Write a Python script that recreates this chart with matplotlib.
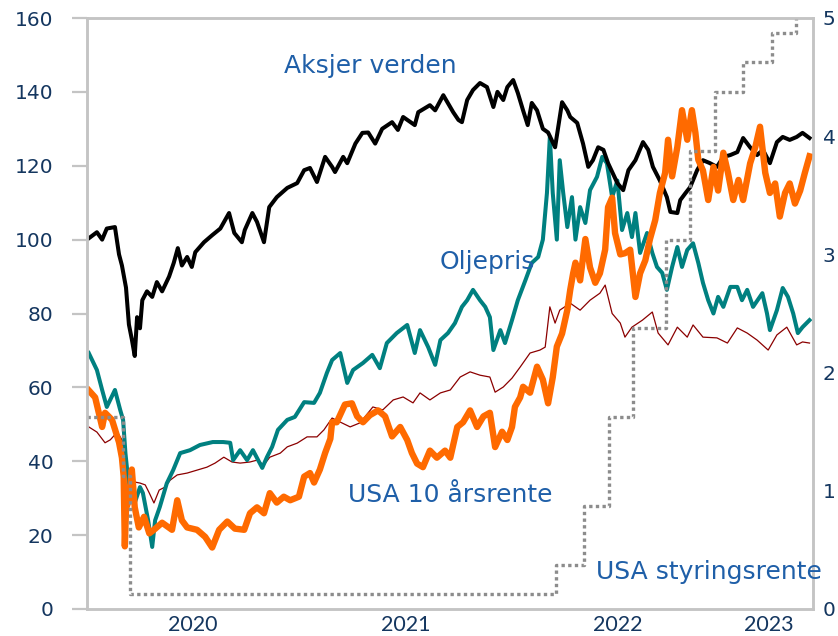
import numpy as np
import pandas as pd
import matplotlib
matplotlib.use("Agg")
import matplotlib.pyplot as plt

# dager etter 2020-01-01
start = pd.Timestamp("2020-01-01")

aksjer_dag = [1, 18, 27, 35, 49, 56, 61, 68, 73, 78, 83, 87, 92, 96, 104, 113, 121, 130, 142, 150,
              157, 164, 173, 181, 187, 202, 216, 230, 245, 254, 267, 272, 285, 293, 305, 314, 327,
              345, 362, 374, 384, 396, 410, 422, 427, 441, 448, 462, 474, 484, 496, 508, 525, 535,
              544, 564, 570, 590, 599, 613, 630, 639, 645, 654, 664, 676, 688, 699, 706, 716, 723,
              733, 741, 750, 758, 765, 774, 784, 793, 805, 817, 826, 831, 843, 853, 862, 870, 879,
              888, 896, 912, 922, 931, 943, 956, 965, 973, 985, 997, 1003, 1015, 1020, 1029, 1037,
              1049, 1059, 1071, 1083, 1094, 1106, 1118, 1128, 1140, 1152, 1162, 1174, 1186, 1196,
              1208, 1220, 1230, 1242]
aksjer = [100, 102, 100, 103, 103.4, 96, 93, 87, 77, 73, 68.5, 79, 76, 83.6, 86, 84.5, 88.5, 86, 90,
          93.7, 97.7, 93, 95.3, 92.6, 96.6, 99.3, 101.2, 103, 107.2, 101.8, 99.3, 102.6, 107.2, 104.8,
          99.3, 108.8, 111.5, 114, 115.3, 118.8, 119.4, 115.6, 122.4, 119.7, 118.3, 122.4, 120.7, 126,
          128.9, 129, 126, 130, 131.8, 129.7, 133.2, 131, 134.5, 136.4, 135, 139.1, 134.5, 132.4,
          131.8, 137.8, 140.5, 142.4, 141.3, 135.9, 140, 137.8, 141.3, 143.2, 139.7, 135, 131, 137,
          135, 130, 129, 125, 137.2, 135, 133.2, 131.6, 126, 119.7, 121.5, 125, 124.3, 120.7, 115.3,
          113.4, 118.8, 121.5, 126.4, 124.3, 119.7, 116, 111.5, 107.5, 107.2, 110.7, 112.6, 114.2,
          118.8, 121.5, 120.7, 119.7, 122.4, 122.9, 123.7, 127.5, 125, 122.9, 124.3, 120.7, 126.4,
          127.8, 127, 127.8, 128.9, 127.5]

olje_dag = [4, 18, 27, 35, 49, 58, 63, 67, 70, 75, 83, 92, 97, 106, 113, 118, 126, 138, 149, 161,
            178, 195, 217, 235, 247, 252, 264, 276, 286, 302, 310, 319, 329, 345, 358, 374, 391, 401,
            413, 422, 436, 448, 458, 475, 491, 504, 516, 533, 551, 564, 573, 587, 599, 608, 621, 633,
            645, 654, 664, 676, 685, 693, 699, 711, 719, 731, 741, 754, 765, 776, 784, 791, 796, 801,
            808, 813, 819, 826, 834, 840, 848, 857, 865, 877, 886, 894, 903, 912, 920, 929, 937, 943,
            951, 963, 972, 980, 989, 997, 1006, 1015, 1023, 1032, 1042, 1051, 1059, 1068, 1077, 1085,
            1094, 1106, 1118, 1126, 1135, 1145, 1161, 1169, 1174, 1186, 1196, 1205, 1214, 1222, 1230,
            1242]
olje = [69.3, 64.7, 59.3, 54.7, 59.3, 53.9, 51.2, 42.2, 37.6, 32.2, 28.7, 33, 31.4, 24, 16.8, 24,
        27.6, 34, 37.6, 42.2, 43, 44.4, 45.2, 45.2, 45, 40.3, 43, 40.3, 43, 38.2, 41.1, 43.9, 48.5,
        51.2, 52, 56, 55.8, 58.5, 63.9, 67.4, 69.3, 61.2, 64.7, 66.6, 68.8, 65.2, 72, 74.7, 76.9,
        69.3, 75.5, 70.9, 66.1, 72.8, 74.7, 77.4, 81.8, 83.6, 86.4, 83.6, 81.8, 79, 70.1, 75.5, 72,
        78.2, 83.6, 89, 93.7, 95.3, 100, 112.6, 127.8, 112.6, 100, 121.5, 112.6, 103.4, 111.5, 100,
        108.8, 104.5, 113.4, 117, 122.4, 120.7, 111.5, 116, 102.6, 107.2, 100.7, 107.2, 96.4, 101.8,
        96.4, 92.6, 91, 86.4, 92.6, 98, 92.6, 97.2, 99, 93.7, 88.3, 83.6, 80, 84.5, 81.8, 87.2, 87.2,
        83.6, 86.4, 81.8, 85.5, 80, 75.5, 80.9, 86.9, 84.5, 80, 74.7, 76.3, 78.2]

rente_dag = [4, 15, 27, 32, 44, 56, 61, 64, 66, 68, 73, 78, 83, 90, 99, 108, 116, 130, 147, 156,
             164, 173, 190, 204, 216, 228, 242, 255, 271, 281, 293, 305, 315, 327, 339, 350, 365,
             374, 384, 391, 401, 410, 419, 422, 430, 444, 456, 465, 475, 487, 501, 513, 525, 539,
             551, 559, 568, 578, 590, 602, 616, 625, 637, 647, 659, 671, 682, 693, 702, 714, 723,
             731, 736, 745, 750, 762, 774, 784, 793, 801, 808, 817, 826, 831, 836, 840, 848, 857,
             865, 874, 882, 891, 896, 903, 908, 917, 925, 934, 943, 951, 960, 968, 977, 985, 994,
             999, 1006, 1015, 1023, 1032, 1040, 1046, 1051, 1059, 1068, 1077, 1085, 1094, 1102,
             1111, 1120, 1128, 1140, 1149, 1157, 1166, 1174, 1183, 1191, 1200, 1208, 1217, 1226,
             1234, 1242]
rente = [1.85, 1.79, 1.54, 1.66, 1.60, 1.41, 1.28, 1.12, 0.53, 0.85, 0.92, 1.18, 0.86, 0.69, 0.78,
         0.64, 0.67, 0.73, 0.67, 0.92, 0.75, 0.69, 0.67, 0.61, 0.52, 0.67, 0.74, 0.68, 0.67, 0.81,
         0.86, 0.81, 0.98, 0.90, 0.95, 0.92, 0.95, 1.12, 1.15, 1.07, 1.18, 1.32, 1.44, 1.58, 1.58,
         1.73, 1.74, 1.63, 1.58, 1.64, 1.68, 1.63, 1.46, 1.54, 1.43, 1.32, 1.23, 1.20, 1.34, 1.28,
         1.34, 1.28, 1.54, 1.58, 1.68, 1.54, 1.63, 1.66, 1.37, 1.50, 1.43, 1.54, 1.71, 1.79, 1.88,
         1.83, 2.05, 1.94, 1.74, 1.96, 2.22, 2.33, 2.53, 2.70, 2.84, 2.93, 2.78, 3.13, 2.89, 2.76,
         2.84, 3.04, 3.40, 3.48, 3.18, 3.00, 3.01, 3.04, 2.64, 2.84, 2.95, 3.13, 3.29, 3.52, 3.69,
         3.97, 3.66, 3.91, 4.22, 3.97, 4.22, 4.03, 3.80, 3.71, 3.46, 3.74, 3.54, 3.86, 3.69, 3.46,
         3.63, 3.46, 3.77, 3.91, 4.08, 3.69, 3.52, 3.60, 3.32, 3.52, 3.60, 3.43, 3.54, 3.69, 3.83]

rod_dag = [4, 18, 32, 41, 53, 61, 66, 73, 82, 92, 101, 108, 116, 125, 135, 144, 156, 173, 190,
           207, 221, 236, 250, 264, 281, 293, 305, 315, 333, 345, 362, 379, 396, 408, 422, 436, 453,
           470, 492, 509, 527, 544, 561, 573, 590, 608, 625, 642, 659, 676, 693, 702, 716, 731,
           745, 762, 779, 788, 796, 805, 813, 831, 848, 865, 882, 891, 903, 917, 925, 937, 955, 972,
           982, 999, 1015, 1032, 1042, 1059, 1083, 1101, 1118, 1135, 1152, 1171, 1186, 1203, 1220,
           1230, 1242]
rod = [49.3, 47.9, 45, 45.8, 47.9, 45.8, 39.5, 36.8, 34.4, 34.1, 33.6, 31.4, 28.7, 32.2, 33, 34.9,
       36.3, 36.8, 37.6, 38.4, 39.5, 41.1, 39.8, 39.5, 39.8, 40.3, 39, 41.1, 42.2, 43.9, 44.9, 46.6,
       46.6, 48.5, 51.7, 50.6, 49.3, 50.4, 54.7, 53.9, 56.6, 57.4, 55.8, 58.5, 56.6, 58.5, 59.3,
       62.8, 64.2, 63.3, 62.8, 58.7, 60.1, 62.5, 65.5, 69.3, 70.1, 70.9, 81.8, 77.4, 80.9, 82.8,
       80.9, 83.6, 85.5, 87.7, 80, 77.4, 73.6, 76.3, 78.2, 80.4, 74.7, 71.5, 76.3, 73.6, 76.9, 73.6,
       73.4, 72, 76.1, 74.7, 72.8, 70.1, 74.2, 76.3, 71.5, 72.3, 72]

# styringsrente, midtpunkt i intervallet
fed_dato = ["2020-01-02", "2020-03-03", "2020-03-16", "2022-03-17", "2022-05-05", "2022-06-16",
            "2022-07-28", "2022-09-22", "2022-11-03", "2022-12-15", "2023-02-02", "2023-03-23",
            "2023-05-04", "2023-06-02"]
fed = [1.625, 1.125, 0.125, 0.375, 0.875, 1.625, 2.375, 3.125, 3.875, 4.375, 4.625, 4.875,
       5.125, 5.125]

venstre_ticks = [0, 20, 40, 60, 80, 100, 120, 140, 160]
hoyre_ticks = [0, 1, 2, 3, 4, 5]
aar_etiketter = ["2020", "2021", "2022", "2023"]


def dato(dager):
    return start + pd.to_timedelta(np.array(dager), unit="D")


W, H = 838, 636
fig = plt.figure(figsize=(W / 100, H / 100), dpi=100)
ax = fig.add_axes([87 / W, (H - 609) / H, 726 / W, 591 / H])
ax2 = ax.twinx()

tekstfarge = "#14365f"
etikettfarge = "#1f5fa8"
kant = "#c4c4c4"

ax.plot(dato(rod_dag), rod, color="#8b0000", lw=0.9)
ax.plot(dato(olje_dag), olje, color="#008080", lw=2.9)
ax.plot(dato(aksjer_dag), aksjer, color="black", lw=2.9)
ax2.plot(dato(rente_dag), rente, color="#ff6a00", lw=4.6)
ax2.step(pd.to_datetime(fed_dato), fed, where="post", color="#8c8c8c", lw=2.4,
         linestyle=(0, (1, 1)))

x0, x1 = pd.Timestamp("2020-01-02"), pd.Timestamp("2023-06-02")
ax.set_xlim(x0, x1)
ax.set_ylim(0, 160)
ax2.set_ylim(0, 5)
ax.set_yticks(venstre_ticks)
ax2.set_yticks(hoyre_ticks)

# årsetiketter midt i hvert år (siste år: midt i synlig del)
midt = [pd.Timestamp("2020-07-01"), pd.Timestamp("2021-07-02"), pd.Timestamp("2022-07-02"),
        pd.Timestamp("2023-01-01") + (x1 - pd.Timestamp("2023-01-01")) / 2]
ax.set_xticks(midt)
ax.set_xticklabels(aar_etiketter, fontfamily="Lato", fontsize=15.5, color=tekstfarge)
ax.tick_params(axis="x", length=0, pad=4)
ax.tick_params(axis="y", length=11, width=1.6, color=kant, pad=13, labelsize=14.5,
               labelcolor=tekstfarge)
ax2.tick_params(axis="y", length=0, pad=7, labelsize=14.5, labelcolor=tekstfarge)

for a in (ax, ax2):
    for s in a.spines.values():
        s.set_color(kant)
        s.set_linewidth(1.8)

fig.text(370 / W, 1 - 66 / H, "Aksjer verden", color=etikettfarge, fontsize=18,
         ha="center", va="center")
fig.text(487 / W, 1 - 262 / H, "Oljepris", color=etikettfarge, fontsize=18,
         ha="center", va="center")
fig.text(450 / W, 1 - 495 / H, "USA 10 årsrente", color=etikettfarge, fontsize=18,
         ha="center", va="center")
fig.text(709 / W, 1 - 572 / H, "USA styringsrente", color=etikettfarge, fontsize=18,
         ha="center", va="center")

fig.savefig("out.png", dpi=100)
